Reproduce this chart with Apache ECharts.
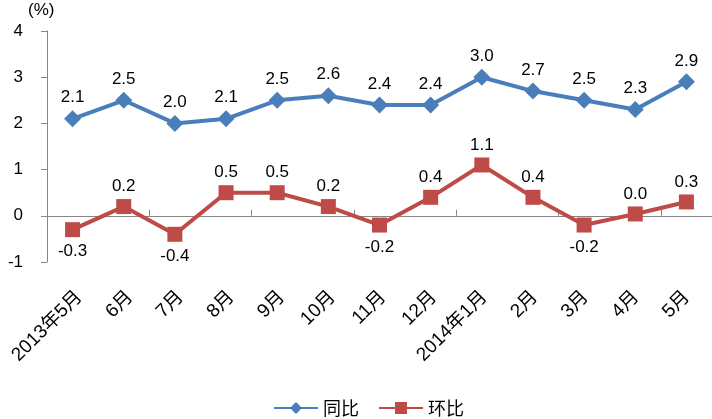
<!DOCTYPE html>
<html><head><meta charset="utf-8">
<script src="https://cdn.jsdelivr.net/npm/echarts@6/dist/echarts.min.js"></script>
<style>html,body{margin:0;padding:0;background:#fff}#c{width:712px;height:419px}</style>
</head><body><div id="c"></div>
<script>
var categories = ['2013年5月','6月','7月','8月','9月','10月','11月','12月','2014年1月','2月','3月','4月','5月'];
var yoy = [2.1, 2.5, 2.0, 2.1, 2.5, 2.6, 2.4, 2.4, 3.0, 2.7, 2.5, 2.3, 2.9];
var mom = [-0.3, 0.2, -0.4, 0.5, 0.5, 0.2, -0.2, 0.4, 1.1, 0.4, -0.2, 0.04, 0.3];
var yTicks = [-1, 0, 1, 2, 3, 4];
var seriesNames = ['同比', '环比'];

var FONT = '"Liberation Sans","Noto Sans CJK SC",sans-serif';
var chart = echarts.init(document.getElementById('c'));
var momData = mom.map(function (v) {
  return { value: v, label: { position: v < 0 ? 'bottom' : 'top', distance: v < 0 ? 6 : 4 } };
});
var fmt = function (p) { return (typeof p.value === 'number' ? p.value : p.value).toFixed(1); };
chart.setOption({
  animation: false,
  backgroundColor: '#fff',
  textStyle: { fontFamily: FONT },
  graphic: [{ type: 'text', left: 28, top: 2, style: { text: '(%)', fontSize: 17, fill: '#000', fontFamily: FONT } }],
  legend: {
    left: 273, top: 399, padding: 0, itemWidth: 44, itemHeight: 15, itemGap: 19,
    textStyle: { fontSize: 18, color: '#000', fontFamily: '"Noto Sans CJK SC",sans-serif' },
    data: seriesNames
  },
  grid: [
    { left: 47, top: 31, width: 672, bottom: 157 },
    { left: 54, top: 31, width: 672, bottom: 157 }
  ],
  xAxis: [{
    gridIndex: 0, type: 'category', data: categories, position: 'bottom',
    axisLine: { show: true, onZero: true, lineStyle: { color: '#868686', width: 1 } },
    axisTick: { show: true, inside: true, length: 6, lineStyle: { color: '#868686' } },
    axisLabel: { show: false }
  }, {
    gridIndex: 1, type: 'category', data: categories, position: 'bottom',
    axisLine: { show: false, onZero: false }, axisTick: { show: false },
    axisLabel: { rotate: 45, margin: 32, fontSize: 19, color: '#000', fontFamily: FONT, interval: 0 }
  }],
  yAxis: [{
    gridIndex: 0, type: 'value', min: yTicks[0], max: yTicks[yTicks.length - 1], interval: 1,
    axisLine: { show: true, lineStyle: { color: '#868686' } },
    axisTick: { show: true, length: 6, lineStyle: { color: '#868686' } },
    splitLine: { show: false },
    axisLabel: { fontSize: 17, color: '#000', margin: 24, fontFamily: FONT }
  }, {
    gridIndex: 1, type: 'value', min: yTicks[0], max: yTicks[yTicks.length - 1], interval: 1, show: false
  }],
  series: [{
    name: seriesNames[0], type: 'line', data: yoy, xAxisIndex: 0, yAxisIndex: 0,
    symbol: 'diamond', symbolSize: 17,
    itemStyle: { color: '#4a7ebb' }, lineStyle: { color: '#4a7ebb', width: 4 },
    label: { show: true, position: 'top', distance: 4, fontSize: 17, color: '#000', fontFamily: FONT,
      formatter: function (p) { return p.value.toFixed(1); } }
  }, {
    name: seriesNames[1], type: 'line', data: momData, xAxisIndex: 0, yAxisIndex: 0,
    symbol: 'rect', symbolSize: 15,
    itemStyle: { color: '#be4b48' }, lineStyle: { color: '#be4b48', width: 4 },
    label: { show: true, fontSize: 17, color: '#000', fontFamily: FONT,
      formatter: function (p) { return p.value.toFixed(1); } }
  }]
});
</script></body></html>
